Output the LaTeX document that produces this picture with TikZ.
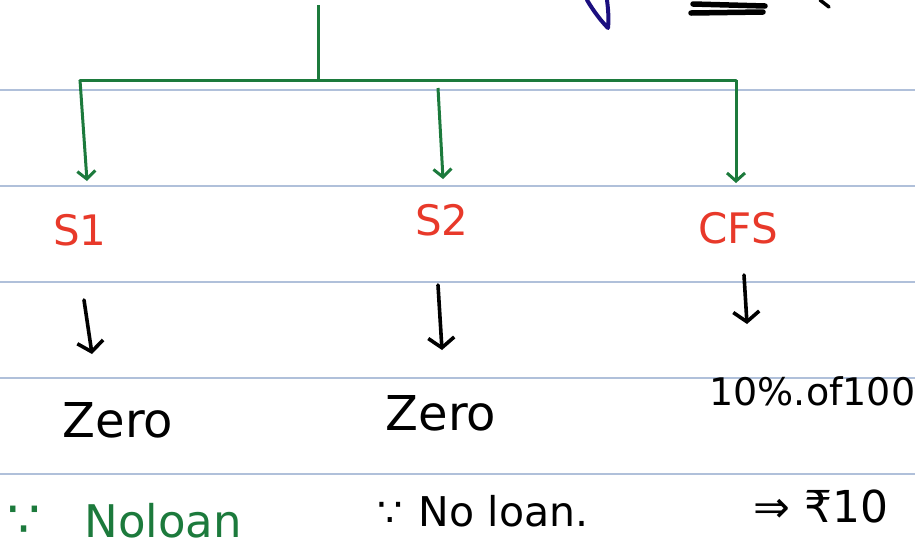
\documentclass[tikz,border=0pt]{standalone}
\usepackage{fontspec}
\setmainfont{DejaVu Sans}
\usetikzlibrary{arrows.meta}
\definecolor{treegreen}{HTML}{1C7A3C}
\definecolor{labelred}{HTML}{E8392A}
\definecolor{rulecol}{HTML}{B0C0DA}
\definecolor{penblue}{HTML}{1B0F7F}
\tikzset{
  ruleline/.style={rulecol, line width=1.3pt},
  tree/.style={treegreen, line width=3pt},
  treearrow/.style={tree, -{Straight Barb[length=8pt,width=18pt,line width=3pt]}},
  downmark/.style={black, line width=3.6pt, line cap=round, -{Straight Barb[length=10pt,width=26pt,line width=3.6pt]}},
  redlbl/.style={labelred, anchor=base, font=\fontsize{42}{42}\selectfont},
  blk/.style={black, anchor=base, font=\fontsize{48}{48}\selectfont},
  pen/.style={line width=4pt, line cap=round, line join=round}
}
\begin{document}
\begin{tikzpicture}[x=1pt,y=-1pt]
\useasboundingbox (0,0) rectangle (915,550);
\fill[white] (0,0) rectangle (915,550);
% ruled paper lines
\foreach \yy in {90,186,282,378,474} \draw[ruleline] (0,\yy) -- (915,\yy);

% fragments at the top
\draw[pen, penblue, line width=4pt] (587,0) .. controls (594,12) and (602,22) .. (608,28) .. controls (609,18) and (608,8) .. (607,0);
\draw[pen, black, line width=5.5pt] (693,4) -- (765,6);
\draw[pen, black, line width=5.5pt] (691,13) -- (763,12);
\draw[pen, black, line width=3.5pt] (820,0) -- (829,7);

% tree
\coordinate (top) at (318,5);
\coordinate (join) at (318,80);
\coordinate (jl) at (80,80);
\coordinate (jr) at (736,80);
\coordinate (jm) at (438,88);
\coordinate (e1) at (87,181);
\coordinate (e2) at (443,179);
\coordinate (e3) at (736,183);
\draw[tree] (top) -- (join);
\draw[tree, line cap=round] (jl) -- (jr);
\draw[treearrow] (jl) -- (e1);
\draw[treearrow] (jm) -- (e2);
\draw[treearrow] (jr) -- (e3);

% labels
\node[redlbl] (s1) at (80,245) {S1};
\node[redlbl] (s2) at (442,235) {S2};
\node[redlbl] (cfs) at (738,243) {CFS};

% down marks
\coordinate (d1a) at (84,300);
\coordinate (d1b) at (92,354);
\coordinate (d2a) at (438,285);
\coordinate (d2b) at (442,350);
\coordinate (d3a) at (744,275);
\coordinate (d3b) at (747,324);
\draw[downmark] (d1a) -- (d1b);
\draw[downmark] (d2a) -- (d2b);
\draw[downmark] (d3a) -- (d3b);

% values
\node[blk] (z1) at (118,437) {Zero};
\node[blk] (z2) at (441,430) {Zero};
\node[blk, anchor=base west, font=\fontsize{38}{38}\selectfont] (pct) at (706,405) {10\%.of100};

% reasons
\node[treegreen, anchor=base west, font=\fontsize{45}{45}\selectfont] (r1) at (4,537) {{\fontsize{52}{52}\selectfont ∵}\hspace{44pt}Noloan};
\node[black, anchor=base west, font=\fontsize{41}{41}\selectfont] (r2) at (374,526) {{\fontsize{40}{40}\selectfont ∵}\hspace{16pt}No loan.};
\node[black, anchor=base west, font=\fontsize{44}{44}\selectfont] (r3) at (750,522) {⇒ ₹10};
\end{tikzpicture}
\end{document}
